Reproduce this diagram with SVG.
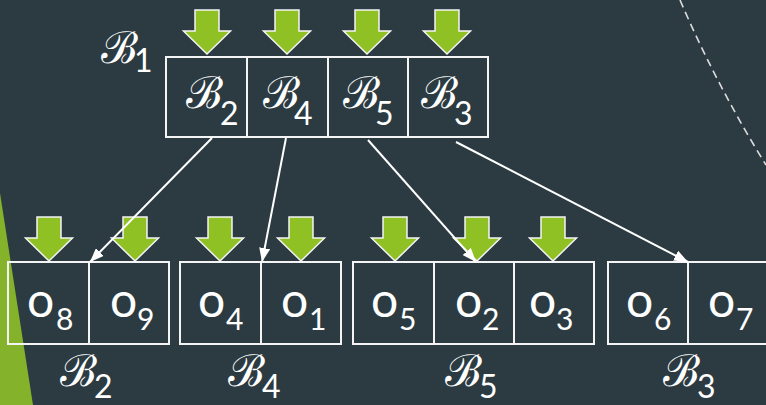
<svg xmlns="http://www.w3.org/2000/svg" width="766" height="405" viewBox="0 0 766 405">
  <style>
    .cell { fill: none; stroke: #f4f4f4; stroke-width: 2; }
    .push { fill: #8fc124; stroke: #f4f4f4; stroke-width: 1.5; stroke-linejoin: miter; }
    .obj { font-family: Lato, "Open Sans", sans-serif; fill: #ffffff; font-size: 48px; }
    .obj tspan { font-size: 30px; }
    .bk { font-family: "DejaVu Serif", serif; fill: #ffffff; font-size: 44px; }
    .sub { font-family: Lato, "Open Sans", sans-serif; font-size: 32px; fill: #ffffff; }
    .link { stroke: #ffffff; stroke-width: 2; fill: none; marker-end: url(#head); }
  </style>
  <defs>
    <!-- green block arrow, tip at (0,0) -->
    <path id="push" class="push" d="M-12,-44 H12 V-23 H23.5 L0,0 L-23.5,-23 H-12 Z"/>
    <marker id="head" markerUnits="userSpaceOnUse" viewBox="0 0 14 11" refX="14" refY="5.5" markerWidth="14" markerHeight="11" orient="auto">
      <path d="M0,0 L14,5.5 L0,11 Z" fill="#ffffff"/>
    </marker>
  </defs>

  <rect width="766" height="405" fill="#2c3b42"/>
  <polygon points="0,193 33,405 0,405" fill="#84b22a"/>
  <path d="M680,0 Q717,86 766,165" fill="none" stroke="#dcdcdc" stroke-width="1.6" stroke-dasharray="8 5"/>

  <!-- root bucket B1 -->
  <g id="B1">
    <text class="bk" x="101" y="63">ℬ<tspan class="sub" x="134" y="72">1</tspan></text>
    <rect class="cell" x="166" y="57" width="322" height="80"/>
    <line class="cell" x1="247" y1="57" x2="247" y2="137"/>
    <line class="cell" x1="328" y1="57" x2="328" y2="137"/>
    <line class="cell" x1="408" y1="57" x2="408" y2="137"/>
    <use href="#push" x="207" y="54"/>
    <use href="#push" x="287" y="54"/>
    <use href="#push" x="367" y="54"/>
    <use href="#push" x="447" y="54"/>
    <text class="bk" x="186" y="108">ℬ<tspan class="sub" x="220" y="125">2</tspan></text>
    <text class="bk" x="263" y="108">ℬ<tspan class="sub" x="294" y="125">4</tspan></text>
    <text class="bk" x="343" y="108">ℬ<tspan class="sub" x="375" y="125">5</tspan></text>
    <text class="bk" x="421" y="108">ℬ<tspan class="sub" x="454" y="125">3</tspan></text>
  </g>

  <!-- leaf bucket B2 -->
  <g id="B2">
    <rect class="cell" x="8" y="262" width="161" height="82"/>
    <line class="cell" x1="89" y1="262" x2="89" y2="344"/>
    <use href="#push" x="49" y="261"/>
    <use href="#push" x="135" y="261"/>
    <text class="obj" x="27" y="317">o<tspan x="56" y="330">8</tspan></text>
    <text class="obj" x="110" y="317">o<tspan x="137" y="330">9</tspan></text>
    <text class="bk" x="60" y="386">ℬ<tspan class="sub" x="94" y="398" font-size="30">2</tspan></text>
  </g>

  <!-- leaf bucket B4 -->
  <g id="B4">
    <rect class="cell" x="180" y="262" width="161" height="82"/>
    <line class="cell" x1="261" y1="262" x2="261" y2="344"/>
    <use href="#push" x="220" y="261"/>
    <use href="#push" x="301" y="261"/>
    <text class="obj" x="198" y="317">o<tspan x="226" y="330">4</tspan></text>
    <text class="obj" x="281" y="317">o<tspan x="309" y="330">1</tspan></text>
    <text class="bk" x="228" y="386">ℬ<tspan class="sub" x="262" y="398" font-size="30">4</tspan></text>
  </g>

  <!-- leaf bucket B5 -->
  <g id="B5">
    <rect class="cell" x="353" y="262" width="241" height="82"/>
    <line class="cell" x1="434" y1="262" x2="434" y2="344"/>
    <line class="cell" x1="514" y1="262" x2="514" y2="344"/>
    <use href="#push" x="395" y="261"/>
    <use href="#push" x="477" y="261"/>
    <use href="#push" x="553" y="261"/>
    <text class="obj" x="371" y="317">o<tspan x="399" y="330">5</tspan></text>
    <text class="obj" x="455" y="317">o<tspan x="482" y="330">2</tspan></text>
    <text class="obj" x="529" y="317">o<tspan x="556" y="330">3</tspan></text>
    <text class="bk" x="445" y="386">ℬ<tspan class="sub" x="479" y="398" font-size="30">5</tspan></text>
  </g>

  <!-- leaf bucket B3 -->
  <g id="B3">
    <rect class="cell" x="608" y="262" width="162" height="82"/>
    <line class="cell" x1="688" y1="262" x2="688" y2="344"/>
    <text class="obj" x="626" y="317">o<tspan x="654" y="330">6</tspan></text>
    <text class="obj" x="708" y="317">o<tspan x="736" y="330">7</tspan></text>
    <text class="bk" x="663" y="386">ℬ<tspan class="sub" x="697" y="398" font-size="30">3</tspan></text>
  </g>

  <!-- child pointers -->
  <g id="links">
    <line class="link" x1="212" y1="138" x2="90" y2="262"/>
    <line class="link" x1="286" y1="138" x2="262" y2="262"/>
    <line class="link" x1="368" y1="140" x2="476" y2="262"/>
    <line class="link" x1="456" y1="142" x2="688" y2="262"/>
  </g>
</svg>
